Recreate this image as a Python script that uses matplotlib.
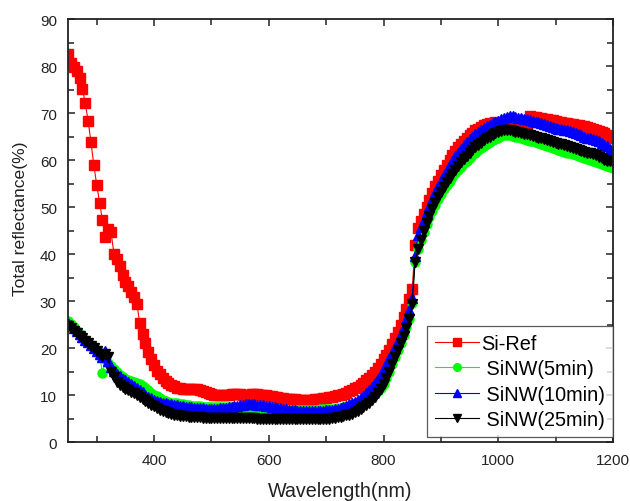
import matplotlib
matplotlib.use("Agg")
import matplotlib.pyplot as plt
from matplotlib.ticker import MultipleLocator

plt.rcParams['font.family'] = ['Liberation Sans', 'DejaVu Sans']

# wavelength grid of the spectrometer (5 nm steps, 250-1200 nm)
wavelength = list(range(250, 1205, 5))

# total reflectance (%), one row = 50 nm
si_ref = [
    82.6, 80.6, 79.7, 79.0, 77.4, 75.2, 72.2, 68.3, 63.8, 58.9,
    54.7, 50.9, 47.2, 43.7, 45.3, 44.6, 40.1, 38.9, 37.5, 35.6,
    34.0, 33.2, 32.0, 30.8, 29.4, 25.3, 23.0, 21.0, 19.1, 17.6,
    16.3, 15.2, 14.4, 13.6, 13.0, 12.6, 12.2, 11.9, 11.6, 11.4,
    11.3, 11.3, 11.3, 11.3, 11.3, 11.2, 11.1, 10.9, 10.7, 10.4,
    10.2, 10.0, 10.0, 10.0, 10.1, 10.1, 10.1, 10.2, 10.2, 10.2,
    10.2, 10.1, 10.1, 10.1, 10.2, 10.2, 10.2, 10.1, 10.0, 9.9,
    9.8, 9.7, 9.6, 9.5, 9.4, 9.3, 9.2, 9.2, 9.1, 9.1,
    9.0, 9.0, 9.0, 9.0, 9.0, 9.0, 9.1, 9.1, 9.2, 9.3,
    9.4, 9.5, 9.6, 9.8, 9.9, 10.1, 10.3, 10.5, 10.8, 11.1,
    11.4, 11.8, 12.2, 12.6, 13.1, 13.6, 14.2, 14.9, 15.7, 16.6,
    17.6, 18.6, 19.6, 20.8, 22.1, 23.5, 25.0, 26.6, 28.4, 30.4,
    32.6, 42.0, 45.5, 47.0, 48.5, 50.0, 51.5, 53.0, 54.4, 55.6,
    56.8, 57.9, 59.0, 60.0, 61.0, 61.9, 62.7, 63.4, 64.1, 64.7,
    65.3, 65.8, 66.3, 66.7, 67.1, 67.4, 67.6, 67.8, 67.9, 68.0,
    67.9, 67.7, 67.5, 67.3, 67.1, 66.9, 66.8, 66.6, 66.5, 66.4,
    66.3, 69.3, 69.2, 69.1, 69.0, 68.9, 68.8, 68.7, 68.6, 68.5,
    68.3, 68.2, 68.1, 67.9, 67.8, 67.7, 67.6, 67.5, 67.4, 67.3,
    67.2, 67.1, 66.9, 66.7, 66.4, 66.2, 66.0, 65.7, 65.4, 65.1,
    64.8,
]

sinw_5 = [
    25.8, 25.1, 24.4, 23.7, 23.0, 22.4, 21.8, 21.2, 20.6, 20.0,
    19.3, 18.6, 14.6, 17.6, 16.9, 16.2, 15.5, 14.8, 14.3, 13.9,
    13.5, 13.2, 12.9, 12.7, 12.5, 12.3, 12.0, 11.6, 11.0, 10.5,
    10.1, 9.7, 9.3, 9.0, 8.8, 8.6, 8.4, 8.3, 8.2, 8.1,
    8.0, 7.9, 7.8, 7.7, 7.7, 7.6, 7.6, 7.5, 7.5, 7.5,
    7.4, 7.4, 7.4, 7.4, 7.4, 7.4, 7.4, 7.4, 7.3, 7.3,
    7.3, 7.3, 7.3, 7.2, 7.2, 7.2, 7.2, 7.1, 7.1, 7.1,
    7.0, 7.0, 7.0, 7.0, 6.9, 6.9, 6.9, 6.9, 6.9, 6.9,
    6.9, 6.9, 6.9, 6.9, 6.9, 6.9, 6.9, 6.9, 7.0, 7.0,
    7.0, 7.0, 7.1, 7.1, 7.2, 7.3, 7.4, 7.5, 7.7, 7.9,
    8.1, 8.3, 8.6, 8.9, 9.2, 9.5, 9.9, 10.4, 10.9, 11.5,
    12.3, 13.6, 15.0, 16.5, 18.0, 19.6, 21.1, 22.7, 24.4, 26.2,
    29.6, 38.4, 41.0, 43.0, 44.7, 46.3, 47.8, 49.2, 50.5, 51.7,
    52.8, 53.8, 54.7, 55.6, 56.4, 57.2, 57.9, 58.6, 59.3, 59.9,
    60.5, 61.1, 61.6, 62.1, 62.6, 63.0, 63.4, 63.8, 64.2, 64.5,
    64.8, 65.1, 65.3, 65.4, 65.3, 65.2, 65.0, 64.9, 64.7, 64.5,
    64.3, 64.1, 64.0, 63.8, 63.6, 63.4, 63.2, 63.0, 62.8, 62.6,
    62.4, 62.2, 62.0, 61.8, 61.6, 61.4, 61.2, 61.0, 60.8, 60.6,
    60.4, 60.2, 60.0, 59.8, 59.6, 59.4, 59.2, 59.0, 58.7, 58.5,
    58.3,
]

sinw_10 = [
    25.4, 24.8, 24.2, 23.6, 23.0, 22.4, 21.8, 21.2, 20.6, 20.0,
    19.4, 18.8, 18.0, 19.3, 17.2, 16.0, 15.2, 14.5, 14.0, 13.5,
    13.1, 12.7, 12.3, 11.9, 11.5, 11.1, 10.6, 10.1, 9.6, 9.3,
    9.0, 8.8, 8.6, 8.4, 8.3, 8.1, 8.0, 7.9, 7.8, 7.7,
    7.6, 7.5, 7.5, 7.4, 7.3, 7.3, 7.2, 7.2, 7.1, 7.1,
    7.1, 7.1, 7.1, 7.2, 7.2, 7.3, 7.4, 7.5, 7.6, 7.7,
    7.8, 7.9, 8.0, 8.0, 8.0, 8.0, 7.9, 7.9, 7.8, 7.7,
    7.6, 7.5, 7.4, 7.3, 7.2, 7.1, 7.0, 6.9, 6.8, 6.8,
    6.7, 6.7, 6.6, 6.6, 6.6, 6.6, 6.6, 6.6, 6.7, 6.7,
    6.8, 6.8, 6.9, 7.0, 7.1, 7.3, 7.5, 7.7, 8.0, 8.3,
    8.6, 8.9, 9.3, 9.8, 10.4, 11.1, 11.8, 12.6, 13.5, 14.5,
    15.5, 16.6, 17.8, 19.0, 20.3, 21.6, 23.0, 24.5, 26.2, 28.0,
    30.6, 39.6, 44.0, 45.7, 47.3, 48.9, 50.3, 51.7, 53.1, 54.4,
    55.6, 56.8, 57.9, 58.9, 59.9, 60.8, 61.6, 62.4, 63.1, 63.8,
    64.4, 65.0, 65.5, 66.0, 66.4, 66.8, 67.2, 67.5, 67.8, 68.1,
    68.4, 68.7, 68.9, 69.1, 69.3, 69.3, 69.2, 69.0, 68.9, 68.8,
    68.7, 68.5, 68.4, 68.2, 68.0, 67.8, 67.7, 67.5, 67.3, 67.1,
    66.9, 66.7, 66.6, 66.4, 66.3, 66.1, 66.0, 65.8, 65.6, 65.4,
    65.0, 64.8, 64.6, 64.4, 64.2, 64.0, 63.7, 63.3, 62.9, 62.4,
    62.0,
]

sinw_25 = [
    24.7, 24.2, 23.7, 23.2, 22.6, 22.1, 21.5, 21.0, 20.4, 19.9,
    19.3, 18.8, 18.2, 18.8, 18.0, 15.0, 13.8, 12.8, 12.2, 11.7,
    11.3, 11.0, 10.7, 10.4, 10.0, 9.6, 9.2, 8.7, 8.3, 7.9,
    7.6, 7.2, 6.9, 6.6, 6.4, 6.2, 6.0, 5.8, 5.7, 5.6,
    5.5, 5.5, 5.4, 5.4, 5.3, 5.3, 5.3, 5.2, 5.2, 5.2,
    5.2, 5.2, 5.1, 5.1, 5.1, 5.1, 5.1, 5.1, 5.1, 5.1,
    5.1, 5.1, 5.1, 5.1, 5.1, 5.1, 5.0, 5.0, 5.0, 5.0,
    5.0, 5.0, 5.0, 4.9, 4.9, 4.9, 4.9, 4.9, 4.8, 4.8,
    4.8, 4.8, 4.8, 4.8, 4.8, 4.8, 4.9, 4.9, 4.9, 5.0,
    5.0, 5.0, 5.1, 5.2, 5.3, 5.4, 5.5, 5.7, 5.8, 6.0,
    6.3, 6.6, 7.0, 7.4, 7.9, 8.4, 9.0, 9.6, 10.4, 11.2,
    12.3, 13.6, 15.0, 16.5, 18.0, 19.5, 21.0, 22.6, 24.3, 26.1,
    29.4, 38.3, 41.0, 43.0, 44.8, 46.5, 48.1, 49.5, 50.9, 52.1,
    53.3, 54.3, 55.3, 56.2, 57.1, 57.9, 58.7, 59.5, 60.2, 60.9,
    61.5, 62.1, 62.7, 63.2, 63.7, 64.2, 64.6, 65.0, 65.4, 65.7,
    66.0, 66.2, 66.3, 66.4, 66.3, 66.2, 66.0, 65.9, 65.8, 65.6,
    65.5, 65.3, 65.2, 65.0, 64.8, 64.6, 64.4, 64.2, 64.0, 63.9,
    63.7, 63.5, 63.4, 63.2, 63.0, 62.8, 62.6, 62.4, 62.2, 62.0,
    61.8, 61.6, 61.4, 61.2, 61.0, 60.7, 60.4, 60.1, 59.9, 59.7,
    59.5,
]

fig = plt.figure(figsize=(6.3, 5.02), dpi=100)
ax = fig.add_axes([0.108, 0.1175, 0.865, 0.8425])

ax.plot(wavelength, si_ref, color='#ff0000', lw=0.8, marker='s', ms=6.5,
        mec='#ff0000', label='Si-Ref')
ax.plot(wavelength, sinw_5, color='#00ff00', lw=0.8, marker='o', ms=6.5,
        mec='#00ff00', label=' SiNW(5min)')
ax.plot(wavelength, sinw_10, color='#0000ff', lw=0.8, marker='^', ms=7,
        mec='#0000ff', label=' SiNW(10min)')
ax.plot(wavelength, sinw_25, color='#000000', lw=0.8, marker='v', ms=7,
        mec='#000000', label=' SiNW(25min)')

ax.set_xlim(250, 1200)
ax.set_ylim(0, 90)
ax.xaxis.set_major_locator(MultipleLocator(200))
ax.xaxis.set_minor_locator(MultipleLocator(100))
ax.yaxis.set_major_locator(MultipleLocator(10))
ax.yaxis.set_minor_locator(MultipleLocator(5))
ax.tick_params(which='both', direction='in', top=True, right=True,
               labelsize=11, width=1.1, colors='#222222')
ax.tick_params(which='major', length=5, pad=8)
ax.tick_params(which='minor', length=4)
for s in ax.spines.values():
    s.set_linewidth(1.3)
    s.set_color('#222222')

ax.set_xlabel('Wavelength(nm)', fontsize=14.2, color='#222222', labelpad=10)
ax.set_ylabel('Total reflectance(%)', fontsize=12.6, color='#222222')
ax.yaxis.set_label_coords(-0.073, 0.53)

leg = ax.legend(loc='lower right', bbox_to_anchor=(1.0, 0.012), fontsize=14.3,
                frameon=True, fancybox=False, borderpad=0.4, labelspacing=0.32,
                handlelength=2.2, handletextpad=0.1, borderaxespad=0.0,
                markerscale=0.85)
leg.get_frame().set_edgecolor('#333333')
leg.get_frame().set_linewidth(0.9)

fig.savefig('out.png', dpi=100)
